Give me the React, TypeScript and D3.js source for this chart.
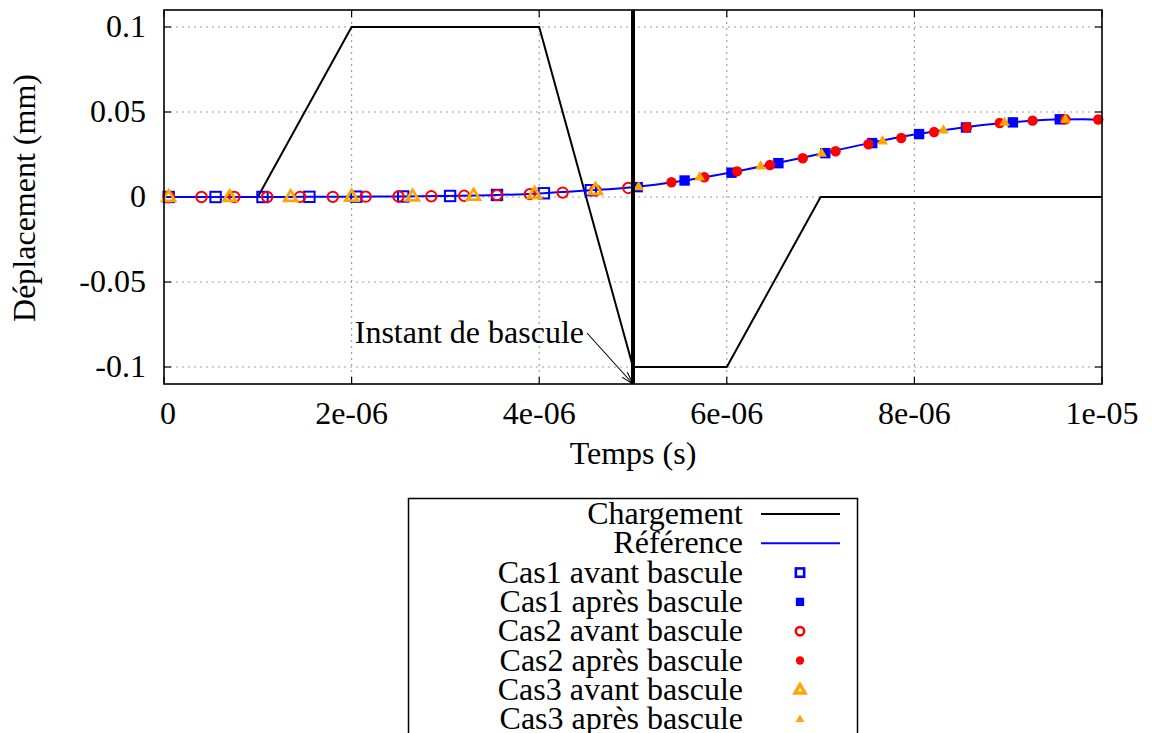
import React from "react";
import * as d3 from "d3";

// ---- Data (times in microseconds, displacement in mm) ----
const loadT = [0, 1, 2, 4, 5, 6, 7, 10];
const loadV = [0, 0, 0.1, 0.1, -0.1, -0.1, 0, 0];

const refT = [0, 0.5, 1, 1.5, 2, 2.5, 3, 3.5, 4, 4.5, 5, 5.5, 6, 6.5, 7, 7.5, 8, 8.5, 9, 9.5, 9.8, 10];
const refV = [0, 0, 0, 0.0001, 0.0002, 0.0003, 0.0006, 0.0011, 0.0021, 0.0038, 0.0058, 0.0093, 0.014, 0.0195, 0.0255, 0.0314, 0.0367, 0.0408, 0.0438, 0.0456, 0.0458, 0.0455];

const cas1AvantT = [0.05, 0.55, 1.05, 1.55, 2.05, 2.55, 3.05, 3.55, 4.05, 4.55];
const cas1AvantV = [0, 0, 0, 0.0001, 0.0002, 0.0003, 0.0006, 0.0012, 0.0022, 0.004];
const cas1ApresT = [5.05, 5.55, 6.05, 6.55, 7.05, 7.55, 8.05, 8.55, 9.05, 9.55];
const cas1ApresV = [0.0058, 0.0097, 0.0143, 0.0199, 0.0258, 0.0317, 0.037, 0.0409, 0.0439, 0.0457];

const cas2AvantT = [0.05, 0.4, 0.75, 1.1, 1.45, 1.8, 2.15, 2.5, 2.85, 3.2, 3.55, 3.9, 4.25, 4.6, 4.95];
const cas2AvantV = [0, 0, 0, 0, 0.0001, 0.0001, 0.0002, 0.0003, 0.0004, 0.0007, 0.0011, 0.0017, 0.0026, 0.0039, 0.0053];
const cas2ApresT = [5.41, 5.76, 6.11, 6.46, 6.81, 7.16, 7.51, 7.86, 8.21, 8.56, 8.91, 9.26, 9.61, 9.96];
const cas2ApresV = [0.0087, 0.0116, 0.0151, 0.0188, 0.0228, 0.0269, 0.031, 0.0347, 0.0382, 0.041, 0.0435, 0.0449, 0.0457, 0.0456];

const cas3AvantT = [0.05, 0.7, 1.35, 2.0, 2.65, 3.3, 3.95, 4.6];
const cas3AvantV = [0, 0, 0, 0.0002, 0.0003, 0.0008, 0.0019, 0.0042];
const cas3ApresT = [5.06, 5.71, 6.36, 7.01, 7.66, 8.31, 8.96, 9.61];
const cas3ApresV = [0.006, 0.0118, 0.0182, 0.0257, 0.033, 0.0394, 0.0439, 0.0457];

const xTicks = [0, 2e-6, 4e-6, 6e-6, 8e-6, 1e-5];
const xTickLabels = ["0", "2e-06", "4e-06", "6e-06", "8e-06", "1e-05"];
const yTicks = [-0.1, -0.05, 0, 0.05, 0.1];
const yTickLabels = ["-0.1", "-0.05", "0", "0.05", "0.1"];

const basculeT = 5;
const legendLabels = [
  "Chargement",
  "Référence",
  "Cas1 avant bascule",
  "Cas1 après bascule",
  "Cas2 avant bascule",
  "Cas2 après bascule",
  "Cas3 avant bascule",
  "Cas3 après bascule",
];

const BLUE = "#0000ff";
const RED = "#ff0000";
const ORANGE = "#ffa500";
const FONT = "Liberation Serif, Times New Roman, serif";
const FS = 32;

const x = d3.scaleLinear().domain([0, 1e-5]).range([164, 1102]);
const y = d3.scaleLinear().domain([-0.11, 0.11]).range([384, 10]);

const pts = (T: number[], V: number[]) => T.map((t, i) => [t * 1e-6, V[i]] as [number, number]);

type Kind = "sqOpen" | "sqFill" | "cOpen" | "cFill" | "tOpen" | "tFill";

function Marker({ kind, cx, cy, s = 1, sw = 2 }: { kind: Kind; cx: number; cy: number; s?: number; sw?: number }) {
  switch (kind) {
    case "sqOpen": {
      const h = 5.2 * s;
      return <rect x={cx - h} y={cy - h} width={2 * h} height={2 * h} fill="none" stroke={BLUE} strokeWidth={sw} />;
    }
    case "sqFill": {
      const h = 5.2 * s;
      return <rect x={cx - h} y={cy - h} width={2 * h} height={2 * h} fill={BLUE} />;
    }
    case "cOpen":
      return <circle cx={cx} cy={cy} r={5.2 * s} fill="none" stroke={RED} strokeWidth={sw} />;
    case "cFill":
      return <circle cx={cx} cy={cy} r={5.2 * s} fill={RED} />;
    case "tOpen": {
      const r = 6.6 * s;
      const p = `M${cx},${cy - r} L${cx + r * 0.95},${cy + r * 0.6} L${cx - r * 0.95},${cy + r * 0.6} Z`;
      return <path d={p} fill="none" stroke={ORANGE} strokeWidth={sw + 0.8} strokeLinejoin="miter" />;
    }
    case "tFill": {
      const r = 5.8 * s;
      const p = `M${cx},${cy - r} L${cx + r * 0.95},${cy + r * 0.6} L${cx - r * 0.95},${cy + r * 0.6} Z`;
      return <path d={p} fill={ORANGE} />;
    }
  }
  return null;
}

const series: { T: number[]; V: number[]; kind: Kind }[] = [
  { T: cas1AvantT, V: cas1AvantV, kind: "sqOpen" },
  { T: cas1ApresT, V: cas1ApresV, kind: "sqFill" },
  { T: cas2AvantT, V: cas2AvantV, kind: "cOpen" },
  { T: cas2ApresT, V: cas2ApresV, kind: "cFill" },
  { T: cas3AvantT, V: cas3AvantV, kind: "tOpen" },
  { T: cas3ApresT, V: cas3ApresV, kind: "tFill" },
];

export default function App() {
  const lineGen = d3
    .line<[number, number]>()
    .x((d) => x(d[0]))
    .y((d) => y(d[1]));
  const smoothGen = d3
    .line<[number, number]>()
    .x((d) => x(d[0]))
    .y((d) => y(d[1]))
    .curve(d3.curveMonotoneX);

  const [x0, x1] = x.range();
  const [yb, yt] = y.range();
  const bx = x(basculeT * 1e-6);

  // annotation arrow
  const ax0 = 587, ay0 = 333;
  const ax1 = bx, ay1 = yb;
  const ang = Math.atan2(ay1 - ay0, ax1 - ax0);
  const hl = 13, ha = 0.28;
  const h1 = [ax1 - hl * Math.cos(ang - ha), ay1 - hl * Math.sin(ang - ha)];
  const h2 = [ax1 - hl * Math.cos(ang + ha), ay1 - hl * Math.sin(ang + ha)];

  const legRow0 = 514;
  const legStep = 29.3;
  const legKinds: (Kind | "lineK" | "lineB")[] = ["lineK", "lineB", "sqOpen", "sqFill", "cOpen", "cFill", "tOpen", "tFill"];

  return (
    <div style={{ position: "absolute", left: 0, top: 0 }}>
      <svg width={1152} height={733} style={{ display: "block", background: "#fff" }} fontFamily={FONT}>
        <rect x={0} y={0} width={1152} height={733} fill="#fff" />
        {/* grid */}
        {xTicks.slice(1, -1).map((t, i) => (
          <line key={"gx" + i} x1={x(t)} x2={x(t)} y1={yt} y2={yb} stroke="#a0a0a0" strokeWidth={1.2} strokeDasharray="2,4" />
        ))}
        {yTicks.map((t, i) => (
          <line key={"gy" + i} x1={x0} x2={x1} y1={y(t)} y2={y(t)} stroke="#a0a0a0" strokeWidth={1.2} strokeDasharray="2,4" />
        ))}
        {/* ticks */}
        {xTicks.map((t, i) => (
          <g key={"tx" + i}>
            <line x1={x(t)} x2={x(t)} y1={yb} y2={yb - 7} stroke="#000" strokeWidth={1.2} />
            <line x1={x(t)} x2={x(t)} y1={yt} y2={yt + 7} stroke="#000" strokeWidth={1.2} />
            <text x={x(t) + (i === 0 ? 4 : 0)} y={424} fontSize={FS} textAnchor="middle" fill="#000">
              {xTickLabels[i]}
            </text>
          </g>
        ))}
        {yTicks.map((t, i) => (
          <g key={"ty" + i}>
            <line x1={x0} x2={x0 + 7} y1={y(t)} y2={y(t)} stroke="#000" strokeWidth={1.2} />
            <line x1={x1} x2={x1 - 7} y1={y(t)} y2={y(t)} stroke="#000" strokeWidth={1.2} />
            <text x={146} y={y(t) + 10} fontSize={FS} textAnchor="end" fill="#000">
              {yTickLabels[i]}
            </text>
          </g>
        ))}
        {/* curves */}
        <path d={lineGen(pts(loadT, loadV)) || ""} fill="none" stroke="#000" strokeWidth={2} />
        <path d={smoothGen(pts(refT, refV)) || ""} fill="none" stroke={BLUE} strokeWidth={2} />
        {series.map((s, si) =>
          s.T.map((t, i) => <Marker key={si + "-" + i} kind={s.kind} cx={x(t * 1e-6)} cy={y(s.V[i])} />)
        )}
        {/* bascule line */}
        <line x1={bx} x2={bx} y1={yt} y2={yb} stroke="#000" strokeWidth={4} />
        {/* annotation */}
        <text x={584} y={343} fontSize={FS} textAnchor="end" fill="#000">
          Instant de bascule
        </text>
        <line x1={ax0} y1={ay0} x2={ax1} y2={ay1} stroke="#000" strokeWidth={1.1} />
        <line x1={h1[0]} y1={h1[1]} x2={ax1} y2={ay1} stroke="#000" strokeWidth={1.1} />
        <line x1={h2[0]} y1={h2[1]} x2={ax1} y2={ay1} stroke="#000" strokeWidth={1.1} />
        {/* frame */}
        <rect x={x0} y={yt} width={x1 - x0} height={yb - yt} fill="none" stroke="#000" strokeWidth={1.6} />
        {/* axis titles */}
        <text x={633} y={464} fontSize={FS} textAnchor="middle" fill="#000">
          Temps (s)
        </text>
        <text transform={`translate(35,198) rotate(-90)`} fontSize={FS} textAnchor="middle" fill="#000">
          Déplacement (mm)
        </text>
        {/* legend */}
        <rect x={408.5} y={498.5} width={449} height={260} fill="none" stroke="#000" strokeWidth={1.5} />
        {legendLabels.map((lab, i) => {
          const cy = legRow0 + i * legStep;
          const k = legKinds[i];
          return (
            <g key={"lg" + i}>
              <text x={743} y={cy + 10} fontSize={FS} textAnchor="end" fill="#000">
                {lab}
              </text>
              {k === "lineK" && <line x1={761} x2={840} y1={cy} y2={cy} stroke="#000" strokeWidth={2} />}
              {k === "lineB" && <line x1={761} x2={840} y1={cy} y2={cy} stroke={BLUE} strokeWidth={2} />}
              {k !== "lineK" && k !== "lineB" && <Marker kind={k as Kind} cx={800} cy={cy} s={0.8} sw={2.6} />}
            </g>
          );
        })}
      </svg>
    </div>
  );
}
